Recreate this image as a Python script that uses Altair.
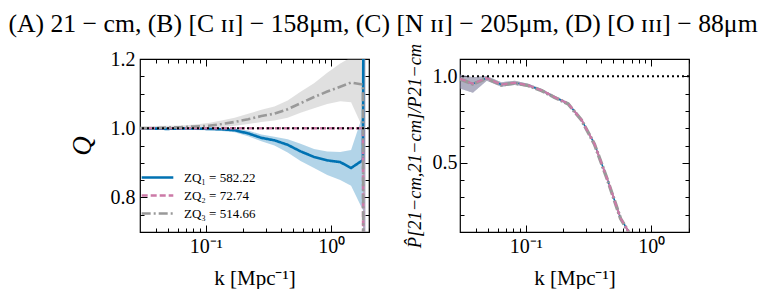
import altair as alt
import pandas as pd

# ---------------- data ----------------
k = [0.030, 0.038, 0.049, 0.064, 0.082, 0.105, 0.134, 0.170, 0.218, 0.278,
     0.353, 0.450, 0.570, 0.730, 0.930, 1.180, 1.440, 1.790, 1.870]

# left panel: Q ratios
q1 = [1.000, 0.999, 0.998, 0.999, 0.999, 0.998, 0.997, 0.994, 0.985, 0.972,
      0.965, 0.952, 0.933, 0.917, 0.907, 0.902, 0.885, 0.908, 3.0]
q1_lo = [0.998, 0.996, 0.995, 0.996, 0.995, 0.994, 0.992, 0.988, 0.977, 0.962,
         0.950, 0.930, 0.905, 0.885, 0.865, 0.850, 0.834, 0.763, -3.0]
q1_hi = [1.002, 1.002, 1.001, 1.002, 1.002, 1.002, 1.001, 0.999, 0.993, 0.982,
         0.975, 0.968, 0.955, 0.940, 0.933, 0.931, 0.937, 1.040, 5.0]

q2 = [1.000, 1.000, 1.000, 1.000, 1.000, 1.000, 1.000, 1.000, 1.000, 1.000,
      1.000, 1.000, 1.000, 1.000, 1.000, 1.000, 1.000, 1.000, -3.0]
q2_lo = [0.999, 0.999, 0.999, 0.999, 0.999, 0.999, 0.999, 0.999, 0.999, 0.999,
         0.999, 0.999, 0.999, 0.999, 0.999, 0.999, 0.999, 0.999, -3.0]
q2_hi = [1.001, 1.001, 1.001, 1.001, 1.001, 1.001, 1.001, 1.001, 1.001, 1.001,
         1.001, 1.001, 1.001, 1.001, 1.001, 1.001, 1.001, 1.001, 5.0]

q3 = [1.000, 1.000, 1.002, 1.003, 1.005, 1.007, 1.012, 1.018, 1.026, 1.035,
      1.042, 1.055, 1.072, 1.090, 1.106, 1.120, 1.132, 1.126, -3.0]
q3_lo = [0.995, 0.996, 0.997, 0.998, 0.999, 1.000, 1.003, 1.007, 1.012, 1.018,
         1.022, 1.030, 1.045, 1.058, 1.070, 1.078, 1.075, 1.000, -3.0]
q3_hi = [1.006, 1.006, 1.007, 1.008, 1.011, 1.015, 1.022, 1.030, 1.042, 1.053,
         1.063, 1.080, 1.105, 1.130, 1.160, 1.187, 1.205, 1.250, 5.0]

# right panel: recovered / true 21-cm power
r1 = [0.986, 0.957, 0.990, 0.952, 0.963, 0.948, 0.919, 0.880, 0.842, 0.750,
      0.610, 0.400, 0.180, 0.050, 0.020, 0.010, 0.005, 0.003, 0.002]
r2 = [0.986, 0.957, 0.990, 0.952, 0.963, 0.948, 0.919, 0.880, 0.842, 0.750,
      0.610, 0.400, 0.180, 0.050, 0.020, 0.010, 0.005, 0.003, 0.002]
r3 = [0.984, 0.955, 0.988, 0.950, 0.961, 0.946, 0.917, 0.878, 0.840, 0.748,
      0.608, 0.398, 0.178, 0.048, 0.020, 0.010, 0.005, 0.003, 0.002]
r_lo = [0.930, 0.905, 0.975, 0.940, 0.950, 0.940, 0.911, 0.872, 0.834, 0.742,
        0.602, 0.392, 0.172, 0.042, 0.015, 0.008, 0.004, 0.002, 0.001]
r_hi = [1.010, 0.995, 1.002, 0.965, 0.975, 0.957, 0.927, 0.888, 0.850, 0.758,
        0.618, 0.408, 0.188, 0.058, 0.025, 0.012, 0.006, 0.004, 0.003]

labels = ["ZQ\u2081 = 582.22", "ZQ\u2082 = 72.74", "ZQ\u2083 = 514.66"]
colors = ["#0072B2", "#CC79A7", "#999999"]
dashes = [[1, 0], [6, 3], [9, 3, 2, 3]]

title_text = ("(A) 21 \u2212 cm, (B) [C \u026a\u026a] \u2212 158\u03bcm, "
              "(C) [N \u026a\u026a] \u2212 205\u03bcm, (D) [O \u026a\u026a\u026a] \u2212 88\u03bcm")

KDOM = [0.03, 2.0]
k_major = [0.1, 1.0]
k_minor = [0.04, 0.05, 0.06, 0.07, 0.08, 0.09, 0.2, 0.3, 0.4, 0.5,
           0.6, 0.7, 0.8, 0.9, 2.0]

W, H = 229, 173
SERIF = "Liberation Serif"
MAJ, MIN = 7, 4   # inward tick lengths (drawn as dashed grid ends)

# ---------------- helpers ----------------
def lab_axis(is_x, values, title, fmt=None, label_expr=None, title_pad=8,
             label_pad=4, title_style="normal", title_size=21):
    span = H if is_x else W
    kw = dict(orient="bottom" if is_x else "left", values=values,
              ticks=False, domain=False,
              grid=True, gridColor="black", gridOpacity=1, gridWidth=1,
              gridDash=[MAJ, span - 2 * MAJ],
              labelFont=SERIF, labelFontSize=20, labelColor="black",
              labelPadding=label_pad, title=title, titleFont=SERIF,
              titleFontSize=title_size, titleFontWeight="normal",
              titleFontStyle=title_style, titleColor="black",
              titlePadding=title_pad)
    if fmt:
        kw["format"] = fmt
    if label_expr:
        kw["labelExpr"] = label_expr
    return alt.Axis(**kw)


def minor_axis(is_x, values):
    span = H if is_x else W
    return alt.Axis(orient="bottom" if is_x else "left", values=values,
                    labels=False, ticks=False, domain=False, title=None,
                    grid=True, gridColor="black", gridOpacity=1, gridWidth=1,
                    gridDash=[MIN, span - 2 * MIN])


def panel(df, ydom, y_major, y_minor, y_title, y_title_pad, y_label_pad,
          y_title_style, y_title_size, data_layers):
    xs = alt.Scale(type="log", domain=KDOM, nice=False)
    ys = alt.Scale(domain=ydom, nice=False, zero=False)
    ax_layers = [
        alt.Chart(df).mark_point(opacity=0, clip=True).encode(
            x=alt.X("k:Q", scale=xs, axis=lab_axis(
                True, k_major, "k [Mpc\u207b\u00b9]",
                label_expr="datum.value < 0.5 ? '10\u207b\u00b9' : '10\u2070'",
                title_pad=11)),
            y=alt.Y("ax:Q", scale=ys, axis=lab_axis(
                False, y_major, y_title, fmt=".1f", title_pad=y_title_pad,
                label_pad=y_label_pad, title_style=y_title_style,
                title_size=y_title_size)),
        ),
        alt.Chart(df).mark_point(opacity=0, clip=True).encode(
            x=alt.X("k:Q", scale=xs, axis=minor_axis(True, k_minor)),
            y=alt.Y("ax:Q", scale=ys, axis=minor_axis(False, y_minor)),
        ),
    ]
    layers = [lay(xs, ys) for lay in data_layers] + ax_layers
    return alt.layer(*layers).resolve_axis(x="independent", y="independent").properties(
        width=W, height=H)


def band(df, lo, hi, color, op=0.3):
    return lambda xs, ys: alt.Chart(df).mark_area(color=color, opacity=op, clip=True).encode(
        x=alt.X("k:Q", scale=xs, axis=None),
        y=alt.Y(f"{lo}:Q", scale=ys, axis=None),
        y2=f"{hi}:Q",
    )


def line(df, col, color, dash, width):
    return lambda xs, ys: alt.Chart(df).mark_line(
        color=color, strokeDash=dash, strokeWidth=width, clip=True).encode(
        x=alt.X("k:Q", scale=xs, axis=None),
        y=alt.Y(f"{col}:Q", scale=ys, axis=None),
    )


def hline():
    def f(xs, ys):
        return alt.Chart(pd.DataFrame({"one": [1.0]})).mark_rule(
            color="black", strokeDash=[2, 3], strokeWidth=2).encode(
            y=alt.Y("one:Q", scale=ys, axis=None))
    return f

# ---------------- left panel ----------------
left_df = pd.DataFrame({"k": k, "lo1": q1_lo, "hi1": q1_hi, "lo2": q2_lo, "hi2": q2_hi,
                        "lo3": q3_lo, "hi3": q3_hi, "ax": q2})
long_rows = []
for lab, vals in zip(labels, [q1, q2, q3]):
    for kk, v in zip(k, vals):
        long_rows.append({"k": kk, "Q": v, "series": lab})
left_long = pd.DataFrame(long_rows)

LEG = dict(title=None, orient="none", legendX=0, legendY=110,
           symbolType="stroke", symbolSize=1000, symbolStrokeWidth=2.6,
           labelFont=SERIF, labelFontSize=13, labelColor="black",
           rowPadding=1, clipHeight=17, labelOffset=9)


def left_lines(xs, ys):
    return alt.Chart(left_long).mark_line(strokeWidth=2.6, clip=True).encode(
        x=alt.X("k:Q", scale=xs, axis=None),
        y=alt.Y("Q:Q", scale=ys, axis=None),
        color=alt.Color("series:N", scale=alt.Scale(domain=labels, range=colors),
                        legend=alt.Legend(**LEG)),
        strokeDash=alt.StrokeDash("series:N", scale=alt.Scale(domain=labels, range=dashes),
                                  legend=alt.Legend(**LEG)),
        detail="series:N",
        order=alt.Order("k:Q"),
    )

left = panel(
    left_df, [0.7, 1.2], [0.8, 1.0, 1.2],
    [0.75, 0.85, 0.9, 0.95, 1.05, 1.1, 1.15],
    "Q", 14, 5, "italic", 27,
    [band(left_df, "lo1", "hi1", colors[0]),
     band(left_df, "lo3", "hi3", colors[2]),
     band(left_df, "lo2", "hi2", colors[1]),
     left_lines,
     hline()],
)

# ---------------- right panel ----------------
right_df = pd.DataFrame({"k": k, "r1": r1, "r2": r2, "r3": r3, "lo": r_lo, "hi": r_hi,
                         "ax": r1})
right = panel(
    right_df, [0.1, 1.1], [0.5, 1.0],
    [0.2, 0.3, 0.4, 0.6, 0.7, 0.8, 0.9],
    "P\u0302[21\u2212cm,21\u2212cm]/P21\u2212cm", 8, 3, "italic", 18.5,
    [band(right_df, "lo", "hi", colors[0], 0.3),
     band(right_df, "lo", "hi", colors[1], 0.3),
     band(right_df, "lo", "hi", colors[2], 0.3),
     line(right_df, "r1", colors[0], [1, 0], 1.5),
     line(right_df, "r3", colors[2], [10, 2, 2, 2], 3.4),
     line(right_df, "r2", colors[1], [6, 3], 2.0),
     hline()],
)

chart = alt.hconcat(left, right, spacing=33).resolve_legend(
    color="independent", strokeDash="independent"
).properties(
    title=alt.TitleParams(text=title_text, font=SERIF, fontSize=25.7, fontWeight="normal",
                          color="black", anchor="middle", offset=5, dx=4),
    padding={"left": 0, "top": 2, "right": 0, "bottom": 0},
).configure_view(stroke="black", strokeWidth=1.2).configure_axis(grid=False)

chart.save("out.html", embed_options={"renderer": "svg", "actions": False})
